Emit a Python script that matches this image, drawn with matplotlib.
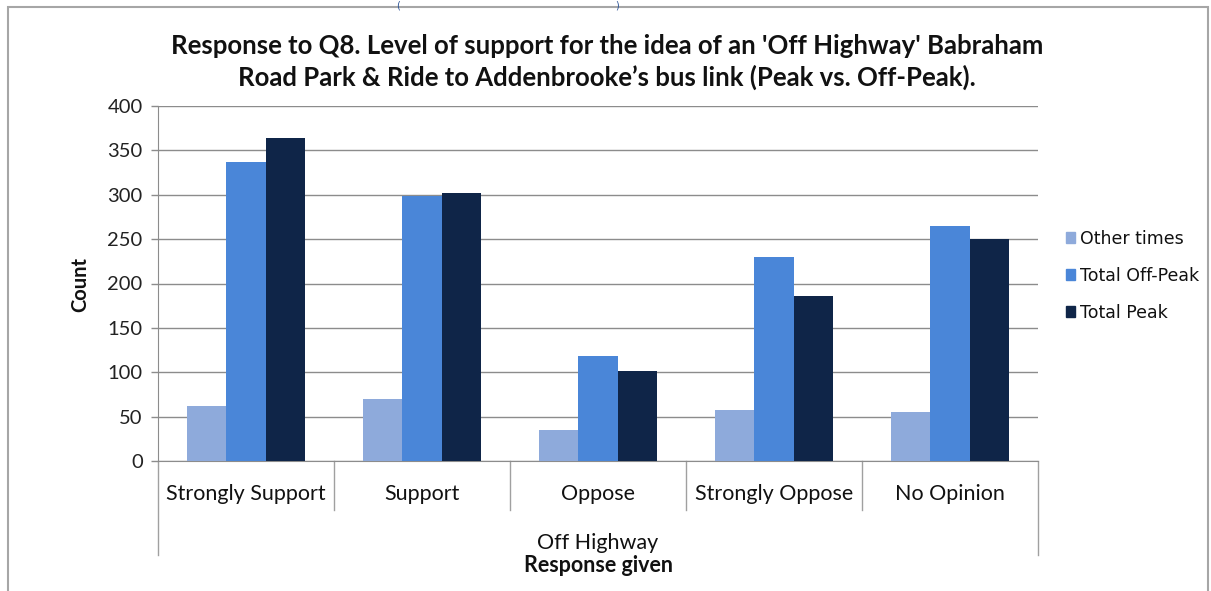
import matplotlib
matplotlib.use("Agg")
import matplotlib.pyplot as plt
import matplotlib.patches as mpatches
import matplotlib.transforms as mtransforms
import numpy as np

categories = ["Strongly Support", "Support", "Oppose", "Strongly Oppose", "No Opinion"]
series_names = ["Other times", "Total Off-Peak", "Total Peak"]
other_times = [62, 70, 35, 58, 55]
total_off_peak = [337, 299, 118, 230, 265]
total_peak = [364, 302, 101, 186, 250]
yticks = [0, 50, 100, 150, 200, 250, 300, 350, 400]
title = ("Response to Q8. Level of support for the idea of an 'Off Highway' Babraham\n"
         "Road Park & Ride to Addenbrooke\u2019s bus link (Peak vs. Off-Peak).")
group_label = "Off Highway"
xlabel = "Response given"
ylabel = "Count"

colors = ["#8EAADB", "#4A86D8", "#0F2548"]
FONT = ["Lato", "DejaVu Sans"]

W, H = 1211, 591
fig = plt.figure(figsize=(W / 100, H / 100), dpi=100)
fig.patch.set_facecolor("white")

def px(x0, y0, x1, y1):
    return [x0 / W, 1 - y1 / H, (x1 - x0) / W, (y1 - y0) / H]

ax = fig.add_axes(px(158, 106, 1038, 461))
x = np.arange(len(categories))
bw = 0.222
for i, (vals, c, name) in enumerate(zip([other_times, total_off_peak, total_peak], colors, series_names)):
    ax.bar(x + (i - 1) * bw, vals, width=bw, color=c, label=name, zorder=3)

ax.set_xlim(-0.5, len(categories) - 0.5)
ax.set_ylim(0, 400)
ax.set_yticks(yticks)
ax.set_yticklabels([str(t) for t in yticks], fontsize=14.5, family=FONT, color="#222222")
ax.yaxis.grid(True, color="#8C8C8C", linewidth=1.0, zorder=0)
ax.tick_params(axis="y", length=5, width=1, color="#8C8C8C", pad=6)
ax.set_xticks([])
for s in ["top", "right"]:
    ax.spines[s].set_visible(False)
ax.spines["left"].set_color("#8C8C8C")
ax.spines["bottom"].set_color("#8C8C8C")

trans = mtransforms.blended_transform_factory(ax.transData, ax.transAxes)
# inner separators
for b in np.arange(0.5, len(categories) - 0.5, 1.0):
    ax.plot([b, b], [0, -49 / 355], transform=trans, color="#A0A0A0", lw=1, clip_on=False)
# outer separators
for b in [-0.5, len(categories) - 0.5]:
    ax.plot([b, b], [0, -94 / 355], transform=trans, color="#A0A0A0", lw=1, clip_on=False)
for xi, cat in zip(x, categories):
    ax.text(xi, -33 / 355, cat, transform=trans, ha="center", va="center",
            fontsize=15.5, family=FONT, color="#111111")
ax.text(0.5, -82 / 355, group_label, transform=ax.transAxes, ha="center", va="center",
        fontsize=15.5, family=FONT, color="#111111")
ax.text(0.5, -105 / 355, xlabel, transform=ax.transAxes, ha="center", va="center",
        fontsize=15.5, family=FONT, fontweight="bold", color="#111111")

fig.text(80 / W, 1 - 285 / H, ylabel, rotation=90, ha="center", va="center",
         fontsize=14.5, family=FONT, fontweight="bold", color="#111111")

fig.text(607 / W, 1 - 62 / H, title, ha="center", va="center", fontsize=18.5,
         family=FONT, fontweight="bold", color="#111111", linespacing=1.3)

handles = [mpatches.Patch(color=c) for c in colors]
leg = fig.legend(handles, series_names, loc="upper left",
                 bbox_to_anchor=(1050 / W, 1 - 214 / H), frameon=False,
                 handlelength=0.55, handleheight=0.55, handletextpad=0.3,
                 labelspacing=1.1, prop={"family": "DejaVu Sans", "size": 12.5})
for t in leg.get_texts():
    t.set_color("#111111")

# outer chart border
fig.patches.append(mpatches.Rectangle((8 / W, -0.02), (1208 - 8) / W, 1 - 7 / H + 0.02,
                                      transform=fig.transFigure, fill=False,
                                      edgecolor="#A6A6A6", lw=1.5))
# blue text at top edge
fig.text(398 / W, 1.0, "(", color="#2F5597", fontsize=7, ha="center", va="top")
fig.text(617 / W, 1.0, ")", color="#2F5597", fontsize=7, ha="center", va="top")

fig.savefig("out.png", dpi=100)
